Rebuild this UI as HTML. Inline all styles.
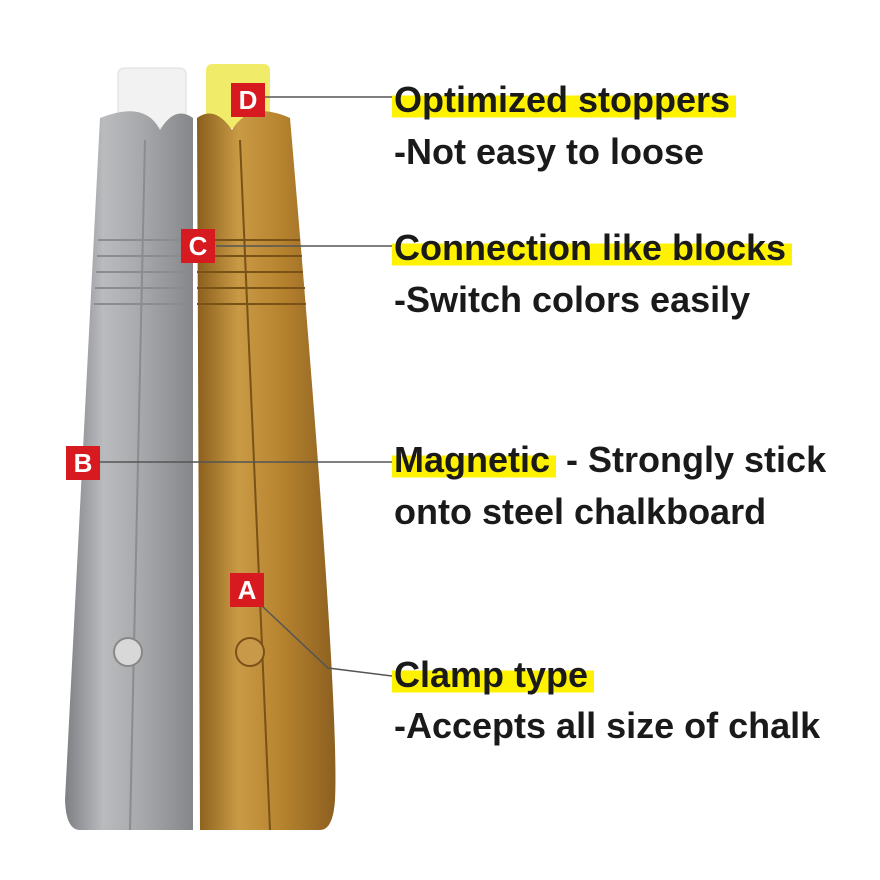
<!DOCTYPE html>
<html><head><meta charset="utf-8"><style>
html,body{margin:0;padding:0;background:#fff;}
#w{position:relative;width:880px;height:880px;overflow:hidden;font-family:"Liberation Sans",sans-serif;}
.t{position:absolute;left:394px;font-size:36px;font-weight:bold;color:#1a1a1a;white-space:nowrap;letter-spacing:0px;}
.h{background:linear-gradient(to bottom,transparent 40%,#fff200 40%,#fff200 94%,transparent 94%);padding:0 6px 0 2px;margin-left:-2px;}
.b{position:absolute;width:34px;height:34px;background:#d71920;color:#fff;font-size:26px;font-weight:bold;text-align:center;line-height:34px;}
</style></head><body><div id="w">
<svg width="880" height="880" style="position:absolute;left:0;top:0">
<defs>
<linearGradient id="s" x1="0" x2="1"><stop offset="0" stop-color="#7d7f83"/><stop offset="0.3" stop-color="#b9bbbe"/><stop offset="0.6" stop-color="#a6a8ab"/><stop offset="1" stop-color="#85878a"/></linearGradient>
<linearGradient id="g" x1="0" x2="1"><stop offset="0" stop-color="#8a5f1c"/><stop offset="0.3" stop-color="#c99a45"/><stop offset="0.6" stop-color="#b8842f"/><stop offset="1" stop-color="#8c6020"/></linearGradient>
</defs>
<rect x="118" y="68" width="68" height="60" rx="6" fill="#f2f2f2" stroke="#ddd"/>
<rect x="206" y="64" width="64" height="64" rx="6" fill="#f0ec6a"/>
<path d="M100 118 Q145 100 160 130 Q175 105 193 118 L193 830 L80 830 Q66 830 65 800 Z" fill="url(#s)"/>
<path d="M197 118 Q215 105 232 130 Q250 100 290 118 Q340 700 335 800 Q333 830 320 830 L200 830 Z" fill="url(#g)"/>
<g stroke="#8a8c8f" stroke-width="2" fill="none">
<path d="M98 240 H193 M97 256 H193 M96 272 H193 M95 288 H193 M94 304 H193"/>
<path d="M145 140 L130 830"/>
</g>
<g stroke="#7a5218" stroke-width="2" fill="none">
<path d="M197 240 H300 M197 256 H302 M197 272 H303 M197 288 H305 M197 304 H306"/>
<path d="M240 140 L270 830"/>
</g>
<circle cx="128" cy="652" r="14" fill="#d8d8d8" stroke="#888" stroke-width="2"/>
<circle cx="250" cy="652" r="14" fill="#c9994a" stroke="#7a5218" stroke-width="2"/>
<g stroke="#555" stroke-width="1.5" fill="none">
<path d="M265 97 H392"/><path d="M216 246 H392"/><path d="M100 462 H392"/><path d="M262 606 L328 668 L392 676"/>
</g>
</svg>
<div class="b" style="left:231px;top:83px">D</div>
<div class="b" style="left:181px;top:229px">C</div>
<div class="b" style="left:66px;top:446px">B</div>
<div class="b" style="left:230px;top:573px">A</div>
<div class="t" style="top:79px"><span class="h">Optimized stoppers</span></div>
<div class="t" style="top:131px">-Not easy to loose</div>
<div class="t" style="top:227px"><span class="h">Connection like blocks</span></div>
<div class="t" style="top:279px">-Switch colors easily</div>
<div class="t" style="top:439px"><span class="h">Magnetic</span> - Strongly stick</div>
<div class="t" style="top:491px">onto steel chalkboard</div>
<div class="t" style="top:654px"><span class="h">Clamp type</span></div>
<div class="t" style="top:705px">-Accepts all size of chalk</div>
</div></body></html>
